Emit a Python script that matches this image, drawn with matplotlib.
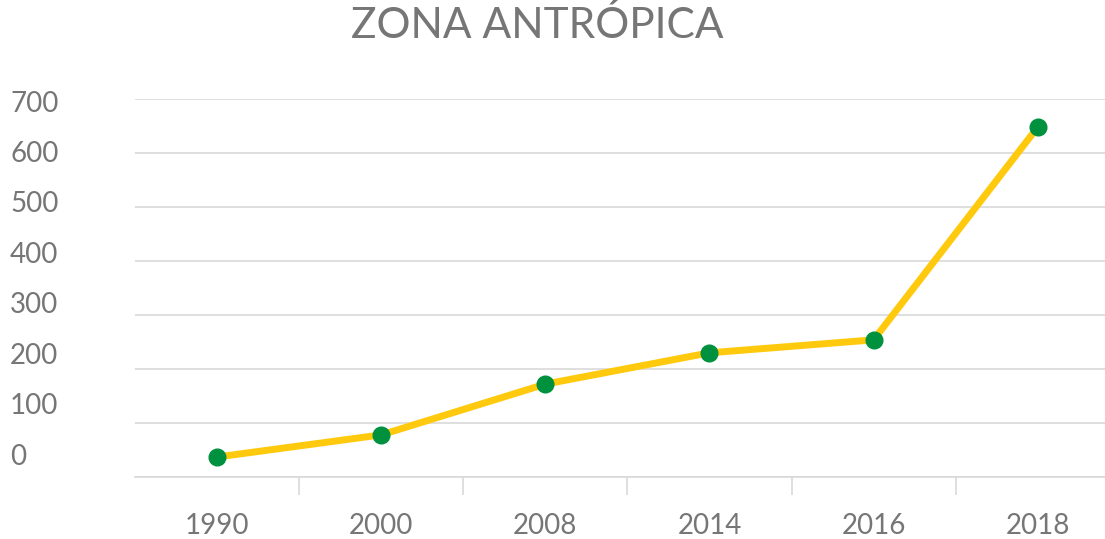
import matplotlib
matplotlib.use("Agg")
import matplotlib.pyplot as plt

# data
years = ["1990", "2000", "2008", "2014", "2016", "2018"]
values = [37, 78, 172, 230, 254, 648]
y_ticks = [0, 100, 200, 300, 400, 500, 600, 700]

TEXT = "#767676"
GRID = "#d9d9d9"
LINE = "#ffc90e"
MARK = "#00913f"

plt.rcParams["font.family"] = ["Lato", "DejaVu Sans"]

fig = plt.figure(figsize=(11.05, 5.39), dpi=100)
ax = fig.add_axes([135 / 1105, 62 / 539, 1 - 135 / 1105, 378 / 539])

x = list(range(len(years)))
ax.plot(x, values, color=LINE, lw=5, solid_capstyle="round", zorder=3,
        marker="o", ms=12, mfc=MARK, mec=MARK, clip_on=False)

ax.set_ylim(0, 700)
ax.set_xlim(-0.5, 5.41)
ax.set_yticks(y_ticks)
ax.yaxis.grid(True, color=GRID, lw=1.2)
ax.set_axisbelow(True)
ax.tick_params(axis="y", length=0, labelleft=False)

for s in ["top", "right", "left"]:
    ax.spines[s].set_visible(False)
ax.spines["bottom"].set_color(GRID)
ax.spines["bottom"].set_linewidth(1.2)

# value labels sit slightly off the gridlines in the original
lab = ax.twinx()
lab.set_ylim(-45, 704)
lab.set_yticks(y_ticks)
lab.set_yticklabels([str(v) for v in y_ticks], fontsize=20, color=TEXT)
lab.yaxis.set_ticks_position("left")
lab.tick_params(axis="y", length=0, pad=90)
for t in lab.get_yticklabels():
    t.set_horizontalalignment("left")
for s in lab.spines.values():
    s.set_visible(False)

# category labels centred, tick marks between categories
ax.set_xticks(x)
ax.set_xticklabels(years, fontsize=20, color=TEXT)
ax.tick_params(axis="x", length=0, pad=26)
ax.set_xticks([i + 0.5 for i in x[:-1]], minor=True)
ax.tick_params(axis="x", which="minor", length=13, width=1.2, color=GRID)

fig.text(537 / 1105, 1 - 38 / 539, "ZONA ANTRÓPICA", fontsize=30.5, color=TEXT,
         ha="center", va="baseline")

fig.savefig("out.png", dpi=100)
